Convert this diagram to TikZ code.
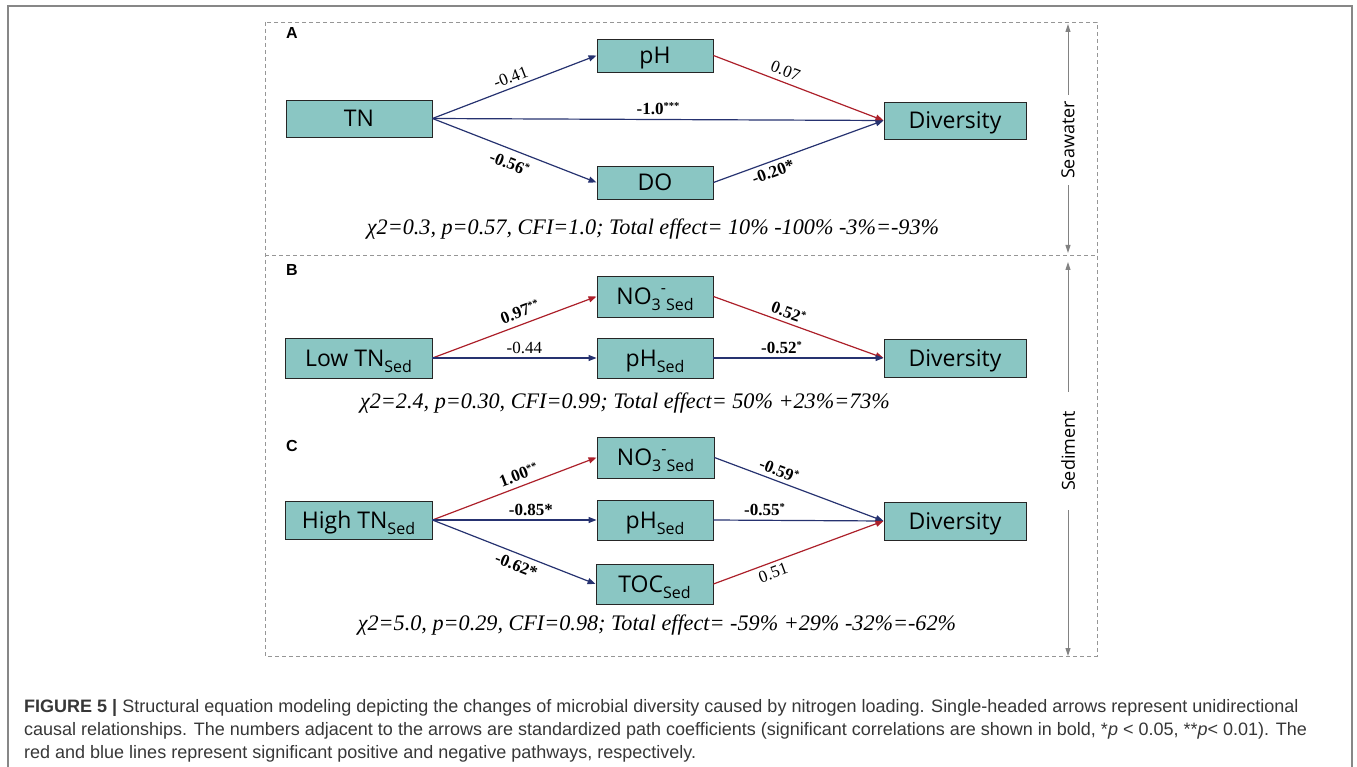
\documentclass[tikz,border=0pt]{standalone}
\usepackage{fontspec}
\setmainfont{Liberation Serif}
\setsansfont{Open Sans}
\newfontfamily\capfont{Liberation Sans}
\usetikzlibrary{arrows.meta}
\definecolor{boxfill}{RGB}{138,198,195}
\definecolor{negblue}{RGB}{38,50,112}
\definecolor{posred}{RGB}{172,32,42}
\definecolor{framegray}{RGB}{150,150,150}
\definecolor{outergray}{RGB}{135,135,135}
\definecolor{sidegray}{RGB}{130,130,130}
\definecolor{captext}{RGB}{55,55,55}
\newcommand{\sbs}[1]{\raisebox{-6pt}{\fontsize{16}{16}\selectfont #1}}
\newcommand{\sps}[1]{\raisebox{11pt}{\fontsize{16}{16}\selectfont #1}}
\newcommand{\stars}[1]{\raisebox{5pt}{\fontsize{10.5}{10.5}\selectfont #1}}
\begin{document}
\begin{tikzpicture}[x=1pt,y=-1pt,
  varbox/.style={draw=black!85, fill=boxfill, line width=0.9pt, inner sep=0pt,
    text height=16.4pt, text depth=0pt, font=\sffamily\fontsize{23}{23}\selectfont},
  negarr/.style={draw=negblue, line width=1.2pt, -{Triangle[length=8pt,width=6pt]}},
  posarr/.style={draw=posred, line width=1.2pt, -{Triangle[length=8pt,width=6pt]}},
  lab/.style={font=\fontsize{17}{17}\selectfont, inner sep=4pt, sloped},
  blab/.style={lab, font=\fontsize{17}{17}\selectfont\bfseries},
  fitstat/.style={font=\fontsize{22.2}{22.2}\selectfont\itshape, anchor=base, inner sep=0pt},
  panel/.style={font=\capfont\bfseries\fontsize{16}{16}\selectfont, inner sep=0pt},
  side/.style={font=\sffamily\fontsize{18}{18}\selectfont, rotate=90, inner ysep=0pt},
  sidearrow/.style={draw=sidegray, line width=1pt, -{Triangle[length=8pt,width=5pt]}},
  capline/.style={font=\capfont\fontsize{18}{18}\selectfont, text=captext, anchor=base west, inner sep=0pt}
]
\useasboundingbox (0,0) rectangle (1357,767);
% outer frame (open at bottom)
\draw[outergray, line width=1.6pt] (8,767) -- (8,6) -- (1352,6) -- (1352,767);
% dashed panel frame
\draw[framegray, line width=0.9pt, dash pattern=on 4pt off 3pt] (265,22) rectangle (1097,656);
\draw[framegray, line width=0.9pt, dash pattern=on 4pt off 3pt] (265,255) -- (1097,255);

% ---------- Panel A ----------
\node[panel] (lA) at (292,33) {A};
\node[varbox, minimum width=146, minimum height=37] (TN) at (359,118.5) {TN};
\node[varbox, minimum width=116, minimum height=33] (pHA) at (655,55.5) {pH};
\node[varbox, minimum width=116, minimum height=33] (DOA) at (655,182.5) {DO};
\node[varbox, minimum width=142, minimum height=37] (DivA) at (955,120.5) {Diversity};
\draw[negarr] (TN.east) -- (pHA.west) node[lab, above, pos=0.5] {-0.41};
\draw[negarr] (TN.east) -- (DivA.west) node[blab, above, pos=0.5] {-1.0\stars{***}};
\draw[negarr] (TN.east) -- (DOA.west) node[blab, below, pos=0.5, inner sep=7pt] {-0.56\stars{*}};
\draw[posarr] (pHA.east) -- (DivA.west) node[lab, above, pos=0.4, inner sep=5pt] {0.07};
\draw[negarr] (DOA.east) -- (DivA.west) node[blab, below, pos=0.33] {-0.20*};
\node[fitstat] (fitA) at (653,235) {χ2=0.3, p=0.57, CFI=1.0; Total effect= 10\% -100\% -3\%=-93\%};

% ---------- Panel B ----------
\node[panel] (lB) at (292,270) {B};
\node[varbox, minimum width=147, minimum height=40] (LowTN) at (358.5,358) {Low TN\sbs{Sed}};
\node[varbox, minimum width=116, minimum height=41] (NOB) at (655,296.5) {NO\sbs{3}\sps{-}\sbs{Sed}};
\node[varbox, minimum width=116, minimum height=40] (pHB) at (655,358) {pH\sbs{Sed}};
\node[varbox, minimum width=142, minimum height=38] (DivB) at (955,358) {Diversity};
\draw[posarr] (LowTN.east) -- (NOB.west) node[blab, above, pos=0.56, inner sep=6pt] {0.97\stars{**}};
\draw[negarr] (LowTN.east) -- (pHB.west) node[lab, above, pos=0.56] {-0.44};
\draw[posarr] (NOB.east) -- (DivB.west) node[blab, above, pos=0.42] {0.52\stars{*}};
\draw[negarr] (pHB.east) -- (DivB.west) node[blab, above, pos=0.4] {-0.52\stars{*}};
\node[fitstat] (fitB) at (625,408) {χ2=2.4, p=0.30, CFI=0.99; Total effect= 50\% +23\%=73\%};

% ---------- Panel C ----------
\node[panel] (lC) at (292,446) {C};
\node[varbox, minimum width=147, minimum height=38] (HighTN) at (358.5,520) {High TN\sbs{Sed}};
\node[varbox, minimum width=117, minimum height=41] (NOC) at (655.5,457.5) {NO\sbs{3}\sps{-}\sbs{Sed}};
\node[varbox, minimum width=116, minimum height=40] (pHC) at (655,520) {pH\sbs{Sed}};
\node[varbox, minimum width=117, minimum height=40] (TOC) at (654.5,584) {TOC\sbs{Sed}};
\node[varbox, minimum width=142, minimum height=38] (DivC) at (955,521) {Diversity};
\draw[posarr] (HighTN.east) -- (NOC.west) node[blab, above, pos=0.55, inner sep=5pt] {1.00\stars{**}};
\draw[negarr] (HighTN.east) -- (pHC.west) node[blab, above, pos=0.6] {-0.85*};
\draw[negarr] (HighTN.east) -- (TOC.west) node[blab, below, pos=0.54, inner sep=5pt] {-0.62*};
\draw[negarr] (NOC.east) -- (DivC.west) node[blab, above, pos=0.36] {-0.59\stars{*}};
\draw[negarr] (pHC.east) -- (DivC.west) node[blab, above, pos=0.3] {-0.55\stars{*}};
\draw[posarr] (TOC.east) -- (DivC.west) node[lab, below, pos=0.33] {0.51};
\node[fitstat] (fitC) at (657,630) {χ2=5.0, p=0.29, CFI=0.98; Total effect= -59\% +29\% -32\%=-62\%};

% ---------- side labels ----------
\coordinate (swtop) at (1068,24);
\coordinate (swbot) at (1068,253);
\node[side, inner xsep=6pt] (sw) at (1068,140) {Seawater};
\draw[sidearrow] (sw.east) -- (swtop);
\draw[sidearrow] (sw.west) -- (swbot);
\coordinate (sdtop) at (1068,262);
\coordinate (sdbot) at (1068,656);
\node[side, inner xsep=19pt] (sd) at (1068,451) {Sediment};
\draw[sidearrow] (sd.east) -- (sdtop);
\draw[sidearrow] (sd.west) -- (sdbot);

% ---------- caption ----------
\node[capline] (cap1) at (24,712) {\textbf{FIGURE 5 |} Structural equation modeling depicting the changes of microbial diversity caused by nitrogen loading. Single-headed arrows represent unidirectional};
\node[capline] (cap2) at (24,735) {causal relationships. The numbers adjacent to the arrows are standardized path coefficients (significant correlations are shown in bold, *\textit{p} < 0.05, **\textit{p}< 0.01). The};
\node[capline] (cap3) at (24,758) {red and blue lines represent significant positive and negative pathways, respectively.};
\end{tikzpicture}
\end{document}
